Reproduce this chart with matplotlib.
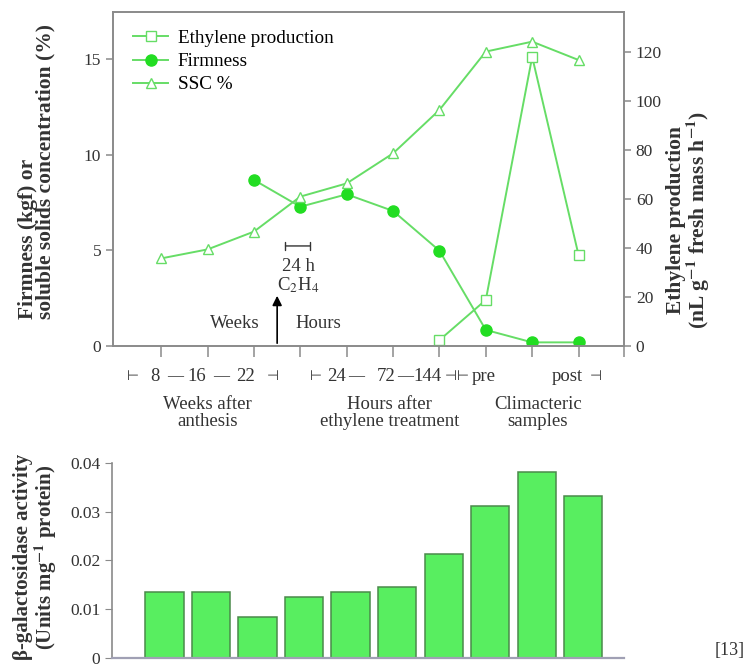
import numpy as np
import matplotlib
matplotlib.use('Agg')
import matplotlib.pyplot as plt

plt.rcParams['font.family'] = ['Liberation Serif', 'DejaVu Serif', 'DejaVu Sans']
plt.rcParams['mathtext.fontset'] = 'stix'

# --- data
ssc_x = [1, 2, 3, 4, 5, 6, 7, 8, 9, 10]
ssc = [4.58, 5.05, 5.98, 7.81, 8.5, 10.07, 12.34, 15.39, 15.91, 14.95]

firm_x = [3, 4, 5, 6, 7, 8, 9, 10]
firm = [8.68, 7.28, 7.93, 7.06, 4.98, 0.84, 0.19, 0.19]

eth_x = [7, 8, 9, 10]
eth = [2.4, 18.8, 118.0, 37.1]

bar_x = [1, 2, 3, 4, 5, 6, 7, 8, 9, 10]
galact = [0.0135, 0.0135, 0.0083, 0.0125, 0.0135, 0.0145, 0.0213, 0.0312, 0.0382, 0.0332]

left_ticks = [0, 5, 10, 15]
right_ticks = [0, 20, 40, 60, 80, 100, 120]
bar_ticks = [0, 0.01, 0.02, 0.03, 0.04]
bar_ticklabels = ['0', '0.01', '0.02', '0.03', '0.04']

# labels under the top axis: (x, text)
row1 = [(0.87, '8'), (1.77, '16'), (2.81, '22'),
        (4.77, '24'), (5.84, '72'), (6.74, '144'),
        (7.95, 'pre'), (9.75, 'post')]
dashes = [(1.3, '—'), (2.3, '—'), (5.2, '—'), (6.27, '—')]
bars = [(0.4, '⊢'), (3.4, '⊣'), (4.34, '⊢'), (7.24, '⊣'), (7.5, '⊢'), (10.38, '⊣')]
groups = [(2.0, 'Weeks after\nanthesis'), (5.93, 'Hours after\nethylene treatment'),
          (9.12, 'Climacteric\nsamples')]

line_c = '#66dd66'
firm_c = '#22dd22'
spine_c = '#8a8a8a'
txt_c = '#333333'
W, H = 748, 669

fig = plt.figure(figsize=(7.48, 6.69), dpi=100)
ax = fig.add_axes([113 / W, 1 - 346 / H, (624 - 113) / W, (346 - 12) / H])
ax2 = ax.twinx()

l1, = ax2.plot(eth_x, eth, '-s', color=line_c, mfc='white', mec=line_c, ms=7, lw=1.4,
               label='Ethylene production')
l2, = ax.plot(firm_x, firm, '-o', color=line_c, mfc=firm_c, mec=firm_c, ms=8, lw=1.4,
              label='Firmness')
l3, = ax.plot(ssc_x, ssc, '-^', color=line_c, mfc='white', mec=line_c, ms=7.5, lw=1.4,
              label='SSC %')

ax.set_xlim(-0.04, 10.98)
ax.set_ylim(0, 17.46)
ax2.set_ylim(0, 136.3)
ax.set_xticks(list(range(1, 11)) + [10.98])
ax.set_xticklabels([])
ax.set_yticks(left_ticks)
ax.set_yticklabels([str(t) for t in left_ticks])
ax2.set_yticks(right_ticks)
ax2.set_yticklabels([str(t) for t in right_ticks])

for a in (ax, ax2):
    for s in a.spines.values():
        s.set_color(spine_c)
        s.set_linewidth(1.2)
    a.tick_params(colors=spine_c, labelcolor=txt_c, labelsize=12.5, width=1.1)
ax.tick_params(axis='x', length=8, direction='out')
ax.tick_params(axis='y', length=5)
ax2.tick_params(axis='y', length=5)

fig.text(37 / W, 1 - 172 / H, 'Firmness (kgf) or\nsoluble solids concentration (%)',
         rotation=90, rotation_mode='anchor', ha='center', va='center', multialignment='left',
         fontsize=15.5, fontweight='bold', color=txt_c, linespacing=0.85)
fig.text(689 / W, 1 - 220 / H,
         'Ethylene production\n(nL g$^{\\mathbf{-1}}$ fresh mass h$^{\\mathbf{-1}}$)',
         rotation=90, rotation_mode='anchor', ha='center', va='center',
         fontsize=15.5, fontweight='bold', color=txt_c, linespacing=0.85)

ax2.legend(handles=[l1, l2, l3], loc='upper left', bbox_to_anchor=(0.025, 0.97),
           frameon=False, fontsize=13.8, handlelength=1.8, handletextpad=0.5,
           labelspacing=0.3, borderaxespad=0)

# treatment annotations
ax.annotate('', xy=(3.5, 2.77), xytext=(3.5, 0),
            arrowprops=dict(arrowstyle='-|>', color='black', lw=1.2, mutation_scale=14))
ax.annotate('', xy=(3.62, 5.23), xytext=(4.27, 5.23),
            arrowprops=dict(arrowstyle='|-|', color='#333333', lw=1.0, mutation_scale=3))
ax.text(3.95, 4.13, '24 h', ha='center', va='center', fontsize=13.5, color=txt_c)
ax.text(3.95, 3.19, 'C$_2$H$_4$', ha='center', va='center', fontsize=13.5, color=txt_c)
ax.text(2.59, 1.2, 'Weeks', ha='center', va='center', fontsize=13.5, color=txt_c)
ax.text(4.38, 1.2, 'Hours', ha='center', va='center', fontsize=13.5, color=txt_c)

tr = ax.get_xaxis_transform()
for x, s in row1:
    ax.text(x, -0.09, s, transform=tr, ha='center', va='center', fontsize=13.5, color=txt_c)
for x, s in dashes:
    ax.text(x, -0.09, s, transform=tr, ha='center', va='center', fontsize=11.5, color=txt_c)
for x, s in bars:
    ax.text(x, -0.09, s, transform=tr, ha='center', va='center', fontsize=10, color=txt_c,
            family=['DejaVu Sans'])
for x, s in groups:
    ax.text(x, -0.2, s, transform=tr, ha='center', va='center', fontsize=13.5, color=txt_c,
            linespacing=1.0)

# bottom bar chart
axb = fig.add_axes([112 / W, 1 - 657.5 / H, (624 - 112) / W, (657.5 - 463) / H])
axb.bar(bar_x, galact, width=0.82, color='#58ee60', edgecolor='#4a8a4a', linewidth=1.1)
axb.set_xlim(-0.13, 10.88)
axb.set_ylim(0, 0.04)
axb.set_yticks(bar_ticks)
axb.set_yticklabels(bar_ticklabels)
axb.set_xticks([])
axb.spines['top'].set_visible(False)
axb.spines['right'].set_visible(False)
axb.spines['left'].set_color(spine_c)
axb.spines['bottom'].set_color('#a0a0b4')
axb.spines['left'].set_linewidth(1.2)
axb.spines['bottom'].set_linewidth(1.6)
axb.tick_params(axis='y', colors=spine_c, labelcolor=txt_c, labelsize=12.5, length=5)
fig.text(36 / W, 1 - 557 / H, 'β-galactosidase activity\n(Units mg$^{\\mathbf{-1}}$ protein)',
         rotation=90, rotation_mode='anchor', ha='center', va='center',
         fontsize=15, fontweight='bold', color=txt_c, linespacing=1.0)

fig.text(745 / W, 1 - 650 / H, '[13]', ha='right', va='center', fontsize=13, color=txt_c)

fig.savefig('out.png', dpi=100)
